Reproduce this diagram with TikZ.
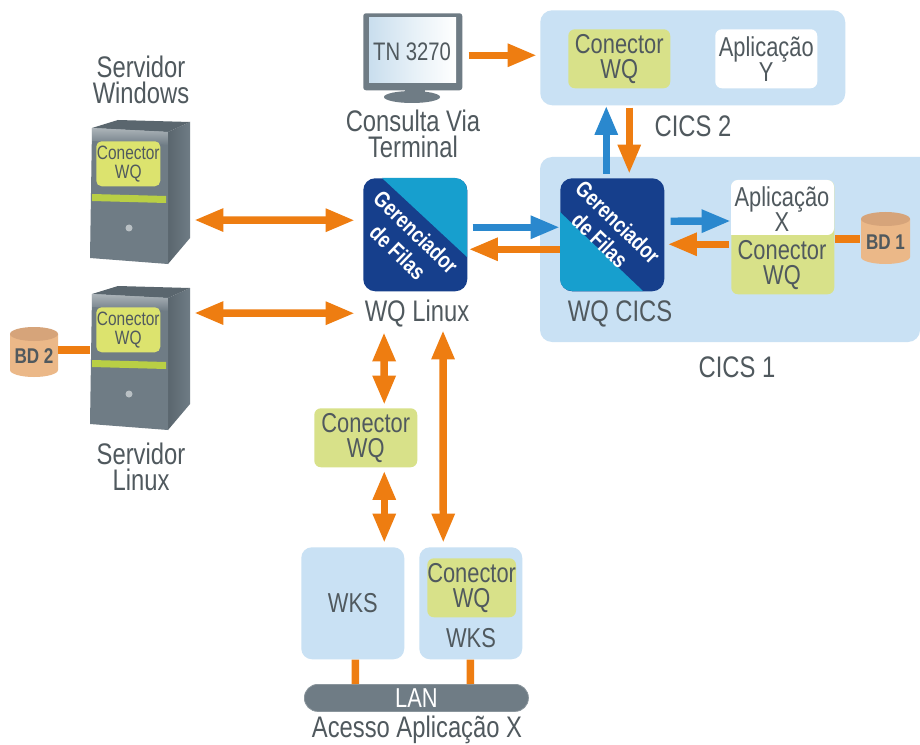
\documentclass[tikz,border=0pt]{standalone}
\usepackage{fontspec}
\setmainfont[FakeStretch=0.8]{Liberation Sans}
\usetikzlibrary{arrows.meta,calc}
\definecolor{txt}{HTML}{50595E}
\definecolor{pale}{HTML}{C9E1F4}
\definecolor{yel}{HTML}{D8E189}
\definecolor{yelsrv}{HTML}{DCE36E}
\definecolor{stripe}{HTML}{B9CF45}
\definecolor{org}{HTML}{EE7D11}
\definecolor{blu}{HTML}{2A88CE}
\definecolor{navy}{HTML}{163F8C}
\definecolor{cyanb}{HTML}{179FCE}
\definecolor{gmid}{HTML}{6F7C85}
\definecolor{gdark}{HTML}{5A666E}
\definecolor{glite}{HTML}{8A959C}
\definecolor{tan}{HTML}{EBB888}
\definecolor{tantop}{HTML}{D6A47A}
\definecolor{scrA}{HTML}{C9DEEE}
\definecolor{scrB}{HTML}{E6F0F7}
\tikzset{
 x=0.75pt,y=-0.75pt,
 lbl/.style={font=\fontsize{20.5}{19}\selectfont,text=txt,align=center,inner sep=0pt},
 lblout/.style={font=\fontsize{22.3}{19.5}\selectfont,text=txt,align=center,inner sep=0pt},
 lblsmall/.style={font=\fontsize{14.5}{14}\selectfont,text=txt,align=center,inner sep=0pt},
 bdlbl/.style={font=\bfseries\fontsize{16}{17}\selectfont,text=txt,inner sep=0pt},
 gerlbl/.style={font=\bfseries\fontsize{17}{18}\selectfont,text=white,inner sep=0pt,rotate=-44},
 pxb/.style={inner sep=0pt,anchor=north west,rounded corners=6pt},
 oa/.style={draw=org,line width=5.6pt,-{Triangle[length=22pt,width=16pt]}},
 oab/.style={draw=org,line width=5.6pt,{Triangle[length=22pt,width=16pt]}-{Triangle[length=22pt,width=16pt]}},
 ba/.style={draw=blu,line width=5.6pt,-{Triangle[length=22pt,width=16pt]}},
 ol/.style={draw=org,line width=5.6pt},
}
% name, style, x1, y1, x2, y2, text
\newcommand\pxbox[7]{\node[pxb,#2,minimum width={(#5-#3)*0.75pt},minimum height={(#6-#4)*0.75pt}] (#1) at (#3,#4) {#7};}
% name, y offset, name of connector
\newcommand\srv[3]{%
 \begin{scope}[yshift={-#2*0.75pt}]
  \shade[left color=gdark,right color=gmid] (168,132) -- (190,122) -- (190,238) -- (168,264) -- cycle;
  \fill[gdark] (92,128) -- (118,120) -- (190,122) -- (168,132) -- cycle;
  \fill[gmid] (92,128) -- (168,132) -- (168,264) -- (90,258) -- cycle;
  \shade[top color=glite!70!white,bottom color=gmid] (92,128) -- (168,132) -- (168,145) -- (92,141) -- cycle;
  \fill[stripe] (92,194) -- (166,196) -- (166,203) -- (92,201) -- cycle;
  \fill[glite!60!white] (129,228) circle[radius=3.5];
  \pxbox{#3}{fill=yelsrv,rounded corners=4pt,lblsmall}{96}{141}{160}{186}{Conector\\WQ}
 \end{scope}}
% name, x1, y1, x2, y2 (body), label
\newcommand\dbcyl[6]{%
 \path[fill=tan] (#2,{#3+7}) -- (#2,{#5-7}) arc[start angle=180,end angle=0,x radius={(#4-#2)/2},y radius=7] -- (#4,{#3+7}) -- cycle;
 \fill[tantop] ({(#2+#4)/2},{#3+7}) ellipse[x radius={(#4-#2)/2},y radius=7];
 \node[bdlbl] (#1) at ({(#2+#4)/2},{(#3+#5)/2+4}) {#6};}
\begin{document}
\begin{tikzpicture}
\useasboundingbox (0,0) rectangle (920,745);
\fill[white] (0,0) rectangle (920,745);
% containers
\pxbox{cicsB}{fill=pale,rounded corners=9pt}{540}{10}{845}{105}{}
\fill[pale,rounded corners=9pt] (920,157) -- (540,157) -- (540,342) -- (920,342) [sharp corners] -- cycle;
% monitor
\node[pxb,fill=gmid,rounded corners=2pt,minimum width={99*0.75pt},minimum height={77*0.75pt}] (monB) at (363,13) {};
\fill[gmid] (405,88) rectangle (425,96);
\fill[gmid] (412,97) ellipse[x radius=28,y radius=6];
\shade[left color=scrA,right color=white,middle color=scrB] (369,18) rectangle (456,83);
\node[lbl,font=\fontsize{19}{19}\selectfont] (tn) at (412,52) {TN 3270};
\node[lblout] (lblCons) at (413,134) {Consulta Via\\Terminal};
% CICS 2
\pxbox{conB}{fill=yel,lbl,rounded corners=5pt}{568}{29}{670}{88}{Conector\\WQ}
\pxbox{appY}{fill=white,lbl,rounded corners=5pt}{715}{29}{817}{88}{Aplicação\\Y}
\node[lblout] (lblC2) at (693,126) {CICS 2};
\node[lblout] (lblC1) at (737,367) {CICS 1};
% servers
\srv{srvWc}{0}{cW}
\srv{srvLc}{166}{cL}
\node[lblout] (lblW) at (141,80) {Servidor\\Windows};
\node[lblout] (lblL) at (141,467) {Servidor\\Linux};
\coordinate (srvW) at (190,220);
\coordinate (srvL) at (190,313);
\coordinate (srvLw) at (90,350);
% queue managers
\pxbox{gerL}{fill=navy,rounded corners=9pt}{363}{178}{467}{291}{}
\begin{scope}
 \clip[rounded corners=9pt] (363,178) rectangle (467,291);
 \fill[cyanb] (382,178) -- (467,257) -- (467,178) -- cycle;
\end{scope}
\node[gerlbl] (gerLa) at (416,232) {Gerenciador};
\node[gerlbl] (gerLb) at (398,252) {de Filas};
\pxbox{gerC}{fill=navy,rounded corners=9pt}{560}{178}{664}{291}{}
\begin{scope}
 \clip[rounded corners=9pt] (560,178) rectangle (664,291);
 \fill[cyanb] (560,212) -- (643,291) -- (560,291) -- cycle;
\end{scope}
\node[gerlbl] (gerCa) at (618,222) {Gerenciador};
\node[gerlbl] (gerCb) at (600,240) {de Filas};
\node[lblout] (lblWL) at (417,314) {WQ Linux};
\node[lblout] (lblWC) at (620,314) {WQ CICS};
% Aplicacao X
\pxbox{appX}{fill=yel,rounded corners=5pt}{731}{180}{834}{294}{}
\fill[white,rounded corners=5pt] (731,235) -- (731,180) -- (834,180) -- (834,235) [sharp corners] -- cycle;
\node[lbl] (lblX) at (782,209) {Aplicação\\X};
\node[lbl] (lblXc) at (782,265) {Conector\\WQ};
% DBs
\dbcyl{bdA}{861}{212}{910}{264}{BD 1}
\dbcyl{bdB}{10}{327}{58}{377}{BD 2}
% Conector WQ central
\pxbox{conM}{fill=yel,lbl,rounded corners=5pt}{314}{408}{417}{467}{Conector\\WQ}
% WKS
\pxbox{wksA}{fill=pale,lbl,rounded corners=8pt}{301}{547}{404}{659}{WKS}
\pxbox{wksB}{fill=pale,rounded corners=8pt}{419}{547}{522}{659}{}
\pxbox{conW}{fill=yel,lbl,rounded corners=5pt}{427}{558}{513}{617}{Conector\\WQ}
\node[lbl] (lblWB) at (471,638) {WKS};
% LAN
\pxbox{lan}{fill=gmid,rounded corners=10pt,draw=glite,line width=0.6pt,font=\fontsize{20.5}{20.5}\selectfont,text=white}{304}{684}{528}{711}{LAN}
\node[lblout] (lblAc) at (417,730) {Acesso Aplicação X};
% connectors
\draw[oab] ($(srvW)+(4,0)$) -- ($(gerL.west)+(-8,-14.5)$);
\draw[oab] ($(srvL)+(4,0)$) -- ($(gerL.west)+(-8,78.5)$);
\draw[oa] ($(monB.east)+(6,3.5)$) -- ($(cicsB.west)+(-3,-2.5)$);
\draw[ba] ($(gerL.east)+(5,-7.5)$) -- ($(gerC.west)+(0,-7.5)$);
\draw[oa] ($(gerC.west)+(0,14.5)$) -- ($(gerL.east)+(1,14.5)$);
\draw[ba] ($(gerC.north)+(-6,-4)$) -- ($(cicsB.south)+(-86.5,0)$);
\draw[oa] ($(cicsB.south)+(-63.5,2)$) -- ($(gerC.north)+(17,-4)$);
\draw[ba] ($(gerC.east)+(6,-13.5)$) -- (appX.west |- 0,221);
\draw[oa] ($(appX.west)+(-2,7)$) -- ($(gerC.east)+(3,9.5)$);
\draw[ol] (bdA.west |- 0,239) ++(-6,0) -- (835,239);
\draw[ol] (srvLw) -- (58,350);
\draw[oab] ($(conM.north)+(18.5,-3)$) -- (384,332);
\draw[oab] ($(conM.south)+(18.5,3)$) -- ($(wksA.north)+(31.5,-4)$);
\draw[oab] ($(wksB.north)+(-27.5,-4)$) -- (443,330);
\draw[ol] ($(wksA.south)+(2.5,0)$) -- ($(lan.north)+(-61,0)$);
\draw[ol] ($(wksB.south)+(-0.5,0)$) -- ($(lan.north)+(54,0)$);
\end{tikzpicture}
\end{document}
